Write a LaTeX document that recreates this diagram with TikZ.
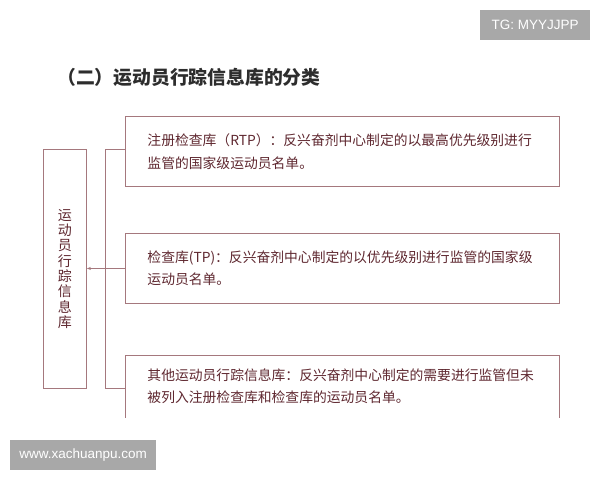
\documentclass[tikz,border=0pt]{standalone}
\usepackage{fontspec}
\setmainfont{Noto Sans CJK SC}
\newfontfamily\wmfont{Liberation Sans}
\usetikzlibrary{arrows.meta}
\definecolor{frame}{RGB}{165,120,125}
\definecolor{ink}{RGB}{95,40,48}
\definecolor{title}{RGB}{45,45,45}
\definecolor{wm}{RGB}{168,168,168}
\begin{document}
\begin{tikzpicture}[x=1pt,y=-1pt,
  catbox/.style={draw=frame,line width=0.9pt,anchor=north west,minimum width=434pt,
    inner xsep=22pt,inner ysep=0pt,text width=390pt,align=left,text=ink,
    font=\fontsize{13.8}{22.5}\selectfont},
  openbox/.style={catbox,draw=none},
  dbbox/.style={draw=frame,line width=0.9pt,anchor=north west,minimum width=43pt,minimum height=239pt,
    inner sep=0pt,align=center,text=ink,font=\fontsize{14}{15.3}\selectfont},
  link/.style={draw=frame,line width=0.9pt},
  wmark/.style={fill=wm,text=white,inner sep=0pt,font=\wmfont\fontsize{13.5}{15}\selectfont}]
\useasboundingbox (0,0) rectangle (600,480);
\fill[white] (0,0) rectangle (600,480);
% watermarks
\node[wmark,minimum width=110pt,minimum height=30pt,anchor=north west] (wm1) at (480,10) {TG: MYYJJPP};
\node[wmark,minimum width=146pt,minimum height=30pt,anchor=north west] (wm2) at (10,440) {www.xachuanpu.com};
% title
\node[anchor=west,text=title,inner sep=0pt,font=\fontsize{18.8}{22}\selectfont\bfseries] (ttl) at (57,77) {（二）运动员行踪信息库的分类};
% left box
\node[dbbox] (db) at (43,149) {运\\动\\员\\行\\踪\\信\\息\\库};
% category boxes
\node[catbox,minimum height=70pt] (b1) at (125,116) {注册检查库（RTP）：反兴奋剂中心制定的以最高优先级别进行\\监管的国家级运动员名单。};
\node[catbox,minimum height=70pt] (b2) at (125,233) {检查库(TP)：反兴奋剂中心制定的以优先级别进行监管的国家级\\运动员名单。};
\node[openbox,minimum height=62pt] (b3) at (125,355) {其他运动员行踪信息库：反兴奋剂中心制定的需要进行监管但未\\被列入注册检查库和检查库的运动员名单。};
\draw[link] (b3.south west) -- (b3.north west) -- (b3.north east) -- (b3.south east);
% bracket
\coordinate (bt) at (105,149);
\coordinate (bb) at (105,388);
\draw[link] (b1.west |- bt) -- (bt) -- (bb) -- (b3.west |- bb);
\draw[link,-{Stealth[length=4pt,width=3pt]}] (b2.west) -- (db.east |- b2.west);
\end{tikzpicture}
\end{document}
